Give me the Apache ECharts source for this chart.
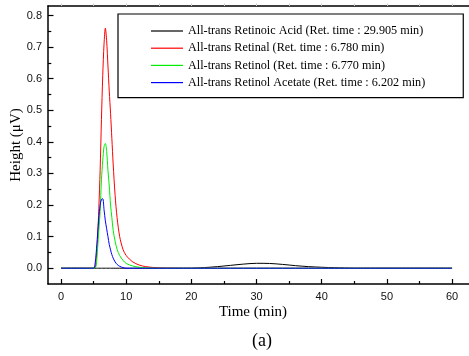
<!DOCTYPE html>
<html>
<head>
<meta charset="utf-8">
<script src="https://cdn.jsdelivr.net/npm/echarts@6/dist/echarts.min.js"></script>
<style>html,body{margin:0;padding:0;background:#fff}#c{width:469px;height:356px}</style>
</head>
<body>
<div id="c"></div>
<script>
const times = [0, 5, 5.2, 5.4, 5.6, 5.8, 6.0, 6.2, 6.4, 6.6, 6.8, 7.0, 7.2, 7.4, 7.6, 7.8, 8.0, 8.3, 8.6, 9.0, 9.5, 10, 11, 12, 13, 15, 20, 22, 24, 26, 28, 30, 32, 34, 36, 38, 40, 42, 45, 60];
const retinoicAcid = [0, 0, 0, 0, 0, 0, 0, 0, 0, 0, 0, 0, 0, 0, 0, 0, 0, 0, 0, 0, 0, 0, 0, 0, 0, 0, 0, 0.002, 0.005, 0.009, 0.013, 0.0155, 0.015, 0.012, 0.008, 0.005, 0.003, 0.0015, 0, 0];
const retinal = [0, 0, 0, 0.03, 0.09, 0.19, 0.31, 0.47, 0.61, 0.71, 0.76, 0.72, 0.64, 0.56, 0.49, 0.41, 0.33, 0.23, 0.16, 0.10, 0.06, 0.04, 0.02, 0.01, 0.005, 0.001, 0, 0, 0, 0, 0, 0, 0, 0, 0, 0, 0, 0, 0, 0];
const retinol = [0, 0, 0, 0.01, 0.06, 0.12, 0.18, 0.28, 0.34, 0.385, 0.395, 0.37, 0.31, 0.26, 0.20, 0.16, 0.12, 0.085, 0.06, 0.04, 0.025, 0.015, 0.007, 0.003, 0.001, 0, 0, 0, 0, 0, 0, 0, 0, 0, 0, 0, 0, 0, 0, 0];
const retinolAcetate = [0, 0, 0.01, 0.05, 0.105, 0.16, 0.20, 0.218, 0.22, 0.185, 0.15, 0.125, 0.10, 0.075, 0.058, 0.043, 0.032, 0.02, 0.012, 0.006, 0.002, 0, 0, 0, 0, 0, 0, 0, 0, 0, 0, 0, 0, 0, 0, 0, 0, 0, 0, 0];
const seriesNames = [
  'All-trans Retinoic Acid (Ret. time : 29.905 min)',
  'All-trans Retinal (Ret. time : 6.780 min)',
  'All-trans Retinol (Ret. time : 6.770 min)',
  'All-trans Retinol Acetate (Ret. time : 6.202 min)'
];
const seriesColors = ['#000000', '#ff0000', '#00ee00', '#0000ff'];
const xMajorTicks = [0, 10, 20, 30, 40, 50, 60];
const xMinorTicks = [5, 15, 25, 35, 45, 55];
const yMajorTicks = [0, 0.1, 0.2, 0.3, 0.4, 0.5, 0.6, 0.7, 0.8];
const yMinorTicks = [0.05, 0.15, 0.25, 0.35, 0.45, 0.55, 0.65, 0.75];

const seriesValues = [retinoicAcid, retinal, retinol, retinolAcetate];
const chart = echarts.init(document.getElementById('c'), null, {renderer: 'canvas'});
const X_MIN = -2, X_MAX = 62.6, Y_MIN = -0.05, Y_MAX = 0.83;
const lineCol = '#000';
const labelFont = {fontFamily: 'Liberation Sans', fontSize: 11, color: '#111'};

function plainAxis(extra) {
  return Object.assign({
    type: 'value', splitLine: {show: false},
    axisLine: {show: false, onZero: false},
    axisLabel: {show: false}
  }, extra);
}

chart.setOption({
  animation: false,
  backgroundColor: '#fff',
  grid: {left: 48, top: 6, right: 0, bottom: 72, containLabel: false, outerBoundsMode: 'none'},
  legend: {
    orient: 'vertical', left: 118, top: 14,
    borderColor: '#000', borderWidth: 1.2,
    padding: [10, 38, 8, 33],
    itemGap: 3.2, itemWidth: 32, itemHeight: 1.2,
    icon: 'rect',
    textStyle: {fontFamily: 'Liberation Serif', fontSize: 12.2, color: '#000', lineHeight: 14},
    data: seriesNames.map(n => ({name: n, icon: 'rect'}))
  },
  xAxis: [
    {
      type: 'value', min: X_MIN, max: X_MAX, position: 'bottom',
      splitLine: {show: false},
      axisLine: {show: true, onZero: false, lineStyle: {color: lineCol, width: 1.5}},
      axisTick: {show: true, inside: true, length: 5, customValues: xMajorTicks, lineStyle: {color: lineCol, width: 1.2}},
      axisLabel: Object.assign({show: true, margin: 7, customValues: xMajorTicks, formatter: v => String(v)}, labelFont),
      name: 'Time (min)', nameLocation: 'middle', nameGap: 21, nameMoveOverlap: false,
      nameTextStyle: {fontFamily: 'Liberation Serif', fontSize: 15, color: '#000', padding: [0, 11, 0, 0]}
    },
    plainAxis({min: X_MIN, max: X_MAX, position: 'bottom',
      axisTick: {show: true, inside: true, length: 3, customValues: xMinorTicks, lineStyle: {color: lineCol, width: 1.2}}}),
    plainAxis({min: X_MIN, max: X_MAX, position: 'top',
      axisLine: {show: true, onZero: false, lineStyle: {color: lineCol, width: 1.5}},
      axisTick: {show: true, inside: false, length: 2.5, customValues: xMajorTicks.concat(xMinorTicks), lineStyle: {color: '#c8c8c8', width: 1}}})
  ],
  yAxis: [
    {
      type: 'value', min: Y_MIN, max: Y_MAX, position: 'left',
      splitLine: {show: false},
      axisLine: {show: true, onZero: false, lineStyle: {color: lineCol, width: 1.5}},
      axisTick: {show: true, inside: true, length: 5.5, customValues: yMajorTicks, lineStyle: {color: lineCol, width: 1.2}},
      axisLabel: Object.assign({show: true, margin: 6, customValues: yMajorTicks, formatter: v => v.toFixed(1)}, labelFont),
      name: 'Height (\u03bcV)', nameLocation: 'middle', nameGap: 24, nameMoveOverlap: false,
      nameTextStyle: {fontFamily: 'Liberation Serif', fontSize: 15, color: '#000'}
    },
    plainAxis({min: Y_MIN, max: Y_MAX, position: 'left',
      axisTick: {show: true, inside: true, length: 3.3, customValues: yMinorTicks, lineStyle: {color: lineCol, width: 1.2}}})
  ],
  graphic: [{
    type: 'text', left: 252, top: 332,
    style: {text: '(a)', fontFamily: 'Liberation Serif', fontSize: 18, fill: '#000'}
  }],
  series: seriesNames.map((name, k) => ({
    name: name, type: 'line', xAxisIndex: 0, yAxisIndex: 0,
    symbol: 'none', showSymbol: false, smooth: 0.3,
    lineStyle: {color: seriesColors[k], width: 1},
    itemStyle: {color: seriesColors[k]},
    data: times.map((t, i) => [t, seriesValues[k][i]])
  }))
});
</script>
</body>
</html>
